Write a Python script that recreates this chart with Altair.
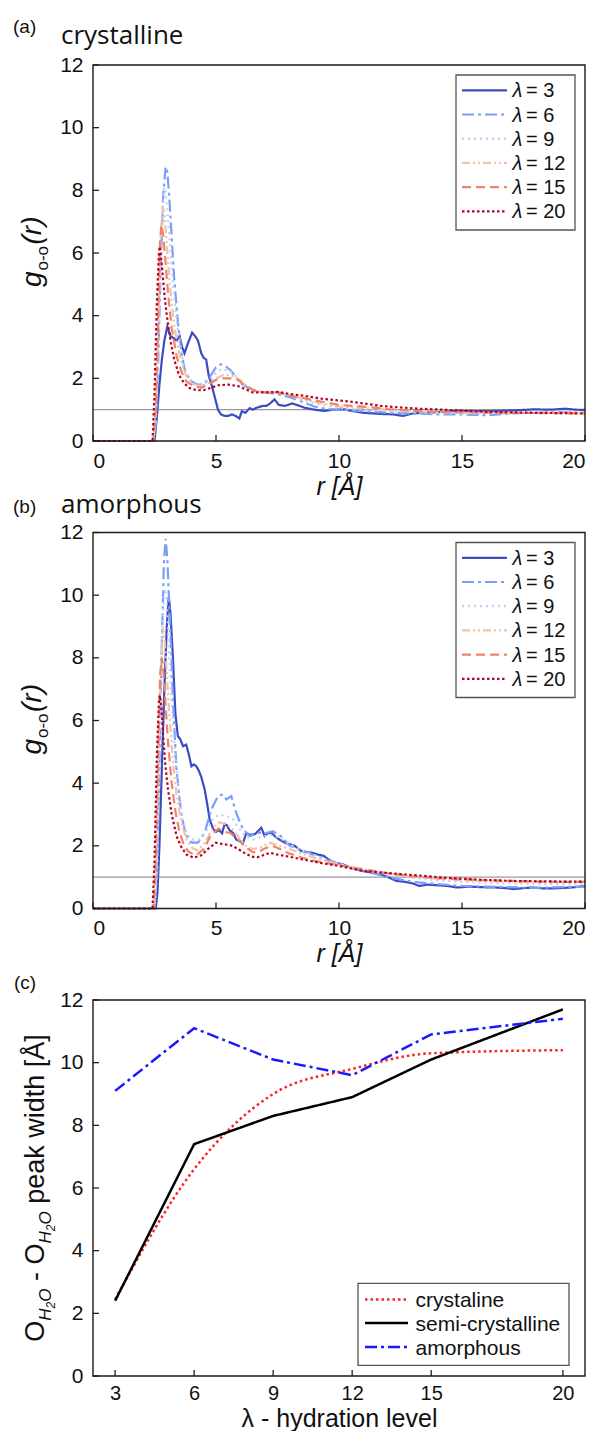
import altair as alt
import pandas as pd

# ---------------- data ----------------
LAMBDAS = ["λ = 3", "λ = 6", "λ = 9", "λ = 12", "λ = 15", "λ = 20"]
LAM_NUM = ["3", "6", "9", "12", "15", "20"]
LAM_COLORS = ["#3b4cc0", "#7b9ff9", "#b9d0f7", "#f2c3ab", "#ee8468", "#b40426"]
LAM_DASHES = [[1, 0], [12, 4, 3, 4], [2, 4], [8, 3, 2, 3, 2, 3], [9, 5], [2.5, 2.5]]

# (a) crystalline : (r, g) pairs
cryst_l3 = [(0, 0), (2.5, 0), (2.6, 0.8), (2.7, 1.8), (2.8, 2.6), (2.9, 3.2), (3.02, 3.65), (3.15, 3.35),
            (3.25, 3.3), (3.4, 3.2), (3.52, 3.35), (3.62, 3.0), (3.72, 2.8), (3.85, 3.1), (4.03, 3.46),
            (4.15, 3.35), (4.27, 3.2), (4.4, 2.8), (4.5, 2.65), (4.6, 2.6), (4.7, 2.1), (4.8, 1.85),
            (4.95, 1.4), (5.08, 1.0), (5.2, 0.85), (5.35, 0.8), (5.5, 0.8), (5.65, 0.85), (5.8, 0.8),
            (5.95, 0.72), (6.05, 0.95), (6.2, 0.9), (6.37, 1.05), (6.5, 1.0), (6.64, 1.06), (6.9, 1.12),
            (7.05, 1.12), (7.2, 1.2), (7.38, 1.33), (7.55, 1.15), (7.8, 1.12), (8.1, 1.2), (8.4, 1.12),
            (8.6, 1.06), (9.0, 1.0), (9.4, 0.96), (9.8, 1.0), (10.2, 1.01), (10.6, 0.95), (11.0, 0.9),
            (11.4, 0.88), (11.8, 0.86), (12.2, 0.85), (12.6, 0.8), (13.0, 0.88), (13.4, 0.9), (14.0, 0.92),
            (14.8, 0.96), (15.5, 0.95), (16.4, 0.96), (17.2, 0.98), (17.9, 1.01), (18.6, 1.0), (19.2, 1.03),
            (19.6, 1.0), (20, 0.99)]
cryst_l6 = [(0, 0), (2.45, 0), (2.55, 0.5), (2.65, 2.5), (2.75, 5.5), (2.85, 7.8), (2.95, 8.75), (3.02, 8.6),
            (3.1, 7.8), (3.2, 6.5), (3.3, 5.2), (3.45, 3.8), (3.6, 2.8), (3.75, 2.2), (4.0, 1.9), (4.25, 1.8),
            (4.5, 1.8), (4.75, 2.05), (5.0, 2.35), (5.2, 2.45), (5.4, 2.38), (5.6, 2.25), (5.8, 2.05),
            (6.0, 1.85), (6.3, 1.7), (6.6, 1.6), (7.0, 1.55), (7.5, 1.5), (8.0, 1.4), (8.5, 1.25), (9.0, 1.1),
            (9.5, 1.02), (10, 1.0), (11, 0.95), (12, 0.9), (13, 0.88), (14, 0.85), (15, 0.85), (16, 0.82),
            (17, 0.88), (18, 0.9), (19, 0.92), (20, 0.9)]
cryst_l9 = [(0, 0), (2.45, 0), (2.55, 0.6), (2.65, 3.0), (2.75, 6.2), (2.85, 8.0), (2.92, 8.1), (3.0, 7.6),
            (3.1, 6.6), (3.2, 5.5), (3.35, 4.2), (3.5, 3.2), (3.7, 2.4), (3.9, 2.0), (4.2, 1.8), (4.5, 1.8),
            (4.8, 2.0), (5.1, 2.25), (5.3, 2.3), (5.6, 2.2), (5.9, 2.0), (6.2, 1.75), (6.6, 1.6), (7.0, 1.55),
            (7.5, 1.55), (8, 1.45), (9, 1.2), (10, 1.05), (11, 1.0), (12, 0.95), (13, 0.92), (14, 0.9),
            (15, 0.88), (16, 0.88), (18, 0.9), (20, 0.9)]
cryst_l12 = [(0, 0), (2.45, 0), (2.55, 0.8), (2.65, 3.5), (2.75, 6.5), (2.82, 7.5), (2.9, 7.3), (3.0, 6.3),
             (3.1, 5.2), (3.25, 4.0), (3.4, 3.2), (3.6, 2.5), (3.8, 2.05), (4.1, 1.8), (4.4, 1.75), (4.7, 1.85),
             (5.0, 2.0), (5.3, 2.1), (5.6, 2.1), (5.9, 2.0), (6.2, 1.8), (6.6, 1.6), (7.0, 1.55), (7.5, 1.55),
             (8, 1.45), (9, 1.25), (10, 1.1), (11, 1.05), (12, 1.0), (13, 0.95), (14, 0.92), (15, 0.9),
             (17, 0.9), (20, 0.9)]
cryst_l15 = [(0, 0), (2.45, 0), (2.55, 1.0), (2.65, 4.0), (2.72, 6.3), (2.78, 6.9), (2.85, 6.6), (2.95, 5.7),
             (3.05, 4.7), (3.2, 3.6), (3.4, 2.7), (3.6, 2.2), (3.8, 1.9), (4.1, 1.75), (4.4, 1.7), (4.7, 1.8),
             (5.0, 1.95), (5.3, 2.0), (5.6, 2.0), (5.9, 1.95), (6.2, 1.75), (6.6, 1.6), (7.0, 1.55), (7.5, 1.55),
             (8, 1.45), (9, 1.3), (10, 1.15), (11, 1.1), (12, 1.02), (13, 0.97), (14, 0.93), (15, 0.92),
             (17, 0.9), (20, 0.88)]
cryst_l20 = [(0, 0), (2.42, 0), (2.5, 1.5), (2.6, 4.5), (2.68, 6.0), (2.72, 6.2), (2.8, 5.6), (2.9, 4.7),
             (3.0, 4.0), (3.15, 3.2), (3.3, 2.6), (3.5, 2.1), (3.7, 1.85), (3.9, 1.7), (4.2, 1.62), (4.5, 1.62),
             (4.8, 1.7), (5.1, 1.78), (5.5, 1.8), (5.9, 1.75), (6.2, 1.65), (6.5, 1.55), (7.0, 1.55), (7.5, 1.57),
             (8.0, 1.5), (8.6, 1.44), (9.3, 1.35), (10.2, 1.28), (11, 1.2), (11.7, 1.12), (12.5, 1.07),
             (13.3, 1.03), (14.8, 0.98), (16, 0.93), (18, 0.9), (20, 0.88)]

# (b) amorphous
amor_l3 = [(0, 0), (2.55, 0), (2.62, 0.5), (2.7, 2.0), (2.8, 4.5), (2.9, 7.0), (3.0, 9.0), (3.08, 9.95),
           (3.15, 9.4), (3.25, 8.0), (3.35, 6.2), (3.45, 5.5), (3.55, 5.4), (3.66, 5.18), (3.79, 5.23),
           (3.9, 4.9), (4.0, 4.54), (4.1, 4.6), (4.2, 4.54), (4.3, 4.4), (4.4, 4.2), (4.54, 3.8), (4.65, 3.3),
           (4.74, 2.85), (4.88, 2.55), (5.0, 2.45), (5.14, 2.5), (5.25, 2.4), (5.35, 2.7), (5.45, 2.65),
           (5.55, 2.5), (5.7, 2.4), (5.82, 2.2), (5.95, 2.15), (6.1, 2.1), (6.23, 2.4), (6.4, 2.35),
           (6.6, 2.38), (6.84, 2.58), (6.98, 2.31), (7.1, 2.4), (7.25, 2.42), (7.4, 2.3), (7.58, 2.2),
           (7.8, 2.1), (8.0, 2.05), (8.2, 2.0), (8.45, 1.84), (8.7, 1.8), (8.9, 1.78), (9.15, 1.72),
           (9.38, 1.68), (9.6, 1.55), (9.85, 1.46), (10.15, 1.41), (10.5, 1.3), (10.93, 1.2), (11.3, 1.15),
           (11.7, 1.09), (12.0, 1.0), (12.33, 0.88), (12.7, 0.85), (13.0, 0.8), (13.26, 0.72), (13.6, 0.76),
           (14.03, 0.74), (14.4, 0.72), (14.8, 0.67), (15.3, 0.7), (15.8, 0.68), (16.36, 0.67), (16.8, 0.65),
           (17.1, 0.62), (17.5, 0.65), (17.9, 0.67), (18.3, 0.64), (18.7, 0.64), (19.2, 0.66), (19.6, 0.68),
           (20, 0.72)]
amor_l6 = [(0, 0), (2.5, 0), (2.6, 1.0), (2.7, 4.5), (2.8, 8.5), (2.88, 11.0), (2.95, 11.8), (3.02, 11.2),
           (3.11, 9.5), (3.2, 7.8), (3.25, 6.67), (3.39, 4.5), (3.52, 3.48), (3.62, 2.9), (3.72, 2.53),
           (3.85, 2.25), (4.0, 2.1), (4.27, 2.1), (4.54, 2.42), (4.81, 3.16), (5.08, 3.59), (5.28, 3.64),
           (5.42, 3.48), (5.62, 3.59), (5.82, 3.06), (6.0, 2.7), (6.1, 2.53), (6.37, 2.31), (6.77, 2.42),
           (7.0, 2.4), (7.31, 2.47), (7.65, 2.3), (8.0, 2.0), (8.5, 1.85), (9.0, 1.7), (9.5, 1.55),
           (10, 1.42), (10.5, 1.3), (11, 1.2), (11.5, 1.1), (12, 1.0), (12.5, 0.92), (13, 0.85), (14, 0.78),
           (15, 0.72), (16, 0.7), (17, 0.68), (18, 0.66), (19, 0.68), (20, 0.7)]
amor_l9 = [(0, 0), (2.5, 0), (2.6, 1.2), (2.7, 5.0), (2.8, 8.5), (2.88, 10.0), (2.95, 10.2), (3.02, 9.5),
           (3.1, 8.0), (3.2, 6.5), (3.35, 4.8), (3.5, 3.6), (3.65, 2.8), (3.8, 2.4), (4.0, 2.2), (4.3, 2.2),
           (4.6, 2.45), (4.9, 2.9), (5.15, 3.0), (5.4, 2.95), (5.65, 2.9), (5.9, 2.6), (6.2, 2.3), (6.5, 2.2),
           (6.9, 2.3), (7.3, 2.35), (7.7, 2.2), (8, 2.05), (8.5, 1.85), (9, 1.7), (9.5, 1.55), (10, 1.42),
           (10.5, 1.32), (11, 1.22), (12, 1.1), (13, 0.98), (14, 0.9), (15, 0.85), (16, 0.82), (17, 0.8),
           (18, 0.78), (19, 0.78), (20, 0.78)]
amor_l12 = [(0, 0), (2.48, 0), (2.58, 1.5), (2.68, 5.5), (2.78, 8.2), (2.85, 9.0), (2.92, 8.5), (3.0, 7.5),
            (3.1, 6.2), (3.25, 4.7), (3.4, 3.6), (3.6, 2.7), (3.8, 2.2), (4.0, 1.95), (4.25, 1.85),
            (4.55, 2.1), (4.85, 2.55), (5.1, 2.75), (5.35, 2.7), (5.6, 2.6), (5.9, 2.3), (6.2, 2.0),
            (6.5, 1.9), (6.8, 1.95), (7.2, 2.1), (7.6, 2.0), (8, 1.9), (8.5, 1.75), (9, 1.62), (9.5, 1.5),
            (10, 1.42), (10.5, 1.32), (11, 1.25), (12, 1.12), (13, 1.02), (14, 0.95), (15, 0.9), (16, 0.88),
            (17, 0.86), (18, 0.85), (19, 0.85), (20, 0.85)]
amor_l15 = [(0, 0), (2.45, 0), (2.55, 1.5), (2.65, 5.0), (2.73, 7.5), (2.8, 8.0), (2.87, 7.5), (2.95, 6.5),
            (3.05, 5.3), (3.2, 4.0), (3.35, 3.1), (3.5, 2.5), (3.7, 2.0), (3.9, 1.8), (4.2, 1.7), (4.5, 1.9),
            (4.8, 2.35), (5.1, 2.55), (5.35, 2.45), (5.6, 2.4), (5.9, 2.2), (6.2, 1.95), (6.5, 1.8),
            (6.7, 1.8), (7.0, 1.92), (7.3, 2.0), (7.6, 1.9), (8.0, 1.75), (8.5, 1.62), (9, 1.52), (9.5, 1.45),
            (10, 1.38), (10.5, 1.3), (11, 1.25), (12, 1.12), (13, 1.03), (14, 0.97), (15, 0.93), (16, 0.9),
            (17, 0.88), (18, 0.86), (19, 0.85), (20, 0.85)]
amor_l20 = [(0, 0), (2.42, 0), (2.5, 1.5), (2.6, 5.0), (2.68, 6.6), (2.72, 6.8), (2.78, 6.4), (2.86, 5.4),
            (2.95, 4.5), (3.05, 3.8), (3.2, 3.0), (3.4, 2.3), (3.6, 1.95), (3.8, 1.72), (4.1, 1.62),
            (4.4, 1.7), (4.7, 1.92), (5.0, 2.1), (5.3, 2.05), (5.6, 2.02), (5.9, 1.9), (6.2, 1.75),
            (6.5, 1.65), (6.7, 1.64), (7.0, 1.72), (7.2, 1.78), (7.5, 1.72), (8.0, 1.65), (8.5, 1.57),
            (9, 1.49), (9.5, 1.42), (10, 1.36), (10.5, 1.28), (11, 1.2), (11.7, 1.15), (12.5, 1.1),
            (13.3, 1.05), (14, 1.0), (15, 0.95), (15.5, 0.93), (16, 0.91), (17, 0.88), (18, 0.87), (19, 0.86),
            (20, 0.86)]

R_TICKS = [0, 5, 10, 15, 20]
G_TICKS = [0, 2, 4, 6, 8, 10, 12]

# (c) peak width vs hydration level
HYD = [3, 6, 9, 12, 15, 20]
PW_CRYST = [2.45, 6.6, 9.0, 9.8, 10.3, 10.4]
PW_SEMI = [2.4, 7.4, 8.3, 8.9, 10.1, 11.7]
PW_AMOR = [9.1, 11.1, 10.1, 9.6, 10.9, 11.4]
C_NAMES = ["crystaline", "semi-crystalline", "amorphous"]
C_COLORS = ["#ff2020", "#000000", "#1a1aff"]
C_DASHES = [[2.5, 3], [1, 0], [12, 4, 3, 4]]
PW_TICKS = [0, 2, 4, 6, 8, 10, 12]

# ---------------- helpers ----------------
W, H = 492, 376
ONE = pd.DataFrame({"k": [0]})
SANS = "Liberation Sans"
INK = "#111"


def gdf(series):
    rows = []
    for lab, pts in zip(LAMBDAS, series):
        for r, g in pts:
            rows.append({"r": r, "g": g, "lam": lab})
    return pd.DataFrame(rows)


def txt(text, x, y, size, font=SANS, style="normal", angle=0):
    return alt.Chart(ONE).mark_text(
        text=text, font=font, fontSize=size, fontStyle=style, angle=angle,
        align="left", baseline="alphabetic", color=INK
    ).encode(x=alt.value(x), y=alt.value(y))


def legend_line(x1, x2, y, color, dash, width):
    return alt.Chart(ONE).mark_rule(color=color, strokeDash=dash, strokeWidth=width).encode(
        x=alt.value(x1), x2=alt.value(x2), y=alt.value(y))


def box(x1, x2, y1, y2):
    return alt.Chart(ONE).mark_rect(fill="white", stroke="#555", strokeWidth=1.3).encode(
        x=alt.value(x1), x2=alt.value(x2), y=alt.value(y1), y2=alt.value(y2))


def frame():
    return alt.Chart(ONE).mark_rect(fillOpacity=0, stroke="#1a1a1a", strokeWidth=1.4).encode(
        x=alt.value(0), x2=alt.value(W), y=alt.value(0), y2=alt.value(H))


def axis_x(values, title, italic, tsize, tpad, lsize, lpad):
    return alt.Axis(values=values, title=title, titleFontStyle="italic" if italic else "normal",
                    titleFontSize=tsize, titleFont=SANS, titlePadding=tpad, titleColor=INK,
                    titleFontWeight="normal", labelFontSize=lsize, labelPadding=lpad, labelFont=SANS,
                    labelColor=INK, ticks=False, tickSize=0, domain=False, grid=False)


def axis_y(values):
    return alt.Axis(values=values, title=None, labelFontSize=21, labelPadding=10, labelFont=SANS,
                    labelColor=INK, ticks=False, tickSize=0, domain=False, grid=False)


def inward_ticks(xfield, xscale, xaxis, xvals, yfield, yscale, yaxis, yvals):
    xt = alt.Chart(pd.DataFrame({xfield: xvals})).mark_rule(color="#222", strokeWidth=1.3).encode(
        x=alt.X(f"{xfield}:Q", scale=xscale, axis=xaxis), y=alt.value(H), y2=alt.value(H - 6))
    yt = alt.Chart(pd.DataFrame({yfield: yvals})).mark_rule(color="#222", strokeWidth=1.3).encode(
        y=alt.Y(f"{yfield}:Q", scale=yscale, axis=yaxis), x=alt.value(0), x2=alt.value(6))
    return [xt, yt]


def g_title():
    y0 = H / 2 + 34
    return [
        txt("g", -52, y0, 28, style="italic", angle=270),
        txt("o-o", -45, y0 - 16.5, 17, angle=270),
        txt("(r)", -52, y0 - 42.5, 28, style="italic", angle=270),
    ]


def lam_legend():
    layers = [box(363, 482, 10, 165)]
    for i, (num, col, dash) in enumerate(zip(LAM_NUM, LAM_COLORS, LAM_DASHES)):
        yc = 25.3 + 24.2 * i
        layers.append(legend_line(369, 414, yc, col, dash, 2.2))
        layers.append(txt("λ", 419.5, yc + 7, 20, style="italic"))
        layers.append(txt("= " + num, 433, yc + 7, 20))
    return layers


def rdf_panel(series, tag, name, tag_y, name_y):
    xs = alt.Scale(domain=[0, 20], nice=False)
    ys = alt.Scale(domain=[0, 12], nice=False)
    ax = axis_x(R_TICKS, "r [Å]", True, 25, 3, 21, 9)
    ay = axis_y(G_TICKS)
    lines = alt.Chart(gdf(series)).mark_line(strokeWidth=2.2).encode(
        x=alt.X("r:Q", scale=xs, axis=ax),
        y=alt.Y("g:Q", scale=ys, axis=ay),
        color=alt.Color("lam:N", scale=alt.Scale(domain=LAMBDAS, range=LAM_COLORS), legend=None),
        strokeDash=alt.StrokeDash("lam:N", scale=alt.Scale(domain=LAMBDAS, range=LAM_DASHES), legend=None),
    )
    ref = alt.Chart(pd.DataFrame({"g": [1]})).mark_rule(color="#9a9a9a", strokeWidth=1.3).encode(
        y=alt.Y("g:Q", scale=ys, axis=ay))
    layers = [ref, lines] + inward_ticks("r", xs, ax, R_TICKS, "g", ys, ay, G_TICKS) + [frame()] + g_title()
    layers += lam_legend()
    layers += [txt(tag, -80, tag_y, 19), txt(name, -32, name_y, 26, font="Open Sans")]
    return alt.layer(*layers).properties(width=W, height=H)


panel_a = rdf_panel([cryst_l3, cryst_l6, cryst_l9, cryst_l12, cryst_l15, cryst_l20],
                    "(a)", "crystalline", -32, -21)
panel_b = rdf_panel([amor_l3, amor_l6, amor_l9, amor_l12, amor_l15, amor_l20],
                    "(b)", "amorphous", -19.5, -19.5)

# ---------------- panel (c) ----------------
rows = []
for name, vals in zip(C_NAMES, [PW_CRYST, PW_SEMI, PW_AMOR]):
    for h, v in zip(HYD, vals):
        rows.append({"hyd": h, "pw": v, "kind": name})
dfc = pd.DataFrame(rows)

xs_c = alt.Scale(domain=[2.16, 20.84], nice=False)
ys_c = alt.Scale(domain=[0, 12], nice=False)
ax_c = axis_x(HYD, "λ - hydration level", False, 25, 3, 20, 7)
ay_c = axis_y(PW_TICKS)
enc_c = dict(
    x=alt.X("hyd:Q", scale=xs_c, axis=ax_c),
    y=alt.Y("pw:Q", scale=ys_c, axis=ay_c),
    color=alt.Color("kind:N", scale=alt.Scale(domain=C_NAMES, range=C_COLORS), legend=None),
    strokeDash=alt.StrokeDash("kind:N", scale=alt.Scale(domain=C_NAMES, range=C_DASHES), legend=None),
)
lines_smooth = alt.Chart(dfc[dfc.kind == "crystaline"]).mark_line(
    strokeWidth=2.5, interpolate="monotone").encode(**enc_c)
lines_straight = alt.Chart(dfc[dfc.kind != "crystaline"]).mark_line(strokeWidth=2.5).encode(**enc_c)

y0c = H / 2 + 153.75
ctitle = [
    txt("O", -49.4, y0c, 27, angle=270),
    txt("H", -42, y0c - 21.0, 17, style="italic", angle=270),
    txt("2", -38, y0c - 33.3, 12, style="italic", angle=270),
    txt("O", -42, y0c - 40.0, 17, style="italic", angle=270),
    txt("- O", -49.4, y0c - 60.7, 27, angle=270),
    txt("H", -42, y0c - 98.2, 17, style="italic", angle=270),
    txt("2", -38, y0c - 110.5, 12, style="italic", angle=270),
    txt("O", -42, y0c - 117.2, 17, style="italic", angle=270),
    txt("peak width [Å]", -49.4, y0c - 137.9, 27, angle=270),
]
c_legend = [box(265, 476, 283.3, 365.3)]
for i, (name, col, dash) in enumerate(zip(C_NAMES, C_COLORS, C_DASHES)):
    yc = [299.5, 323.0, 347.0][i]
    c_legend.append(legend_line(272, 315, yc, col, dash, 2.5))
    c_legend.append(txt(name, 322.6, yc + 7.5, 21))

panel_c = alt.layer(
    lines_smooth, lines_straight,
    *inward_ticks("hyd", xs_c, ax_c, HYD, "pw", ys_c, ay_c, PW_TICKS),
    frame(),
    *ctitle, *c_legend,
    txt("(c)", -79, -10.7, 19),
).properties(width=W, height=H)

chart = alt.vconcat(panel_a, panel_b, panel_c, spacing=91.5, bounds="flush").resolve_scale(
    color="independent", strokeDash="independent").properties(
    padding={"left": 5, "top": 10, "right": 0, "bottom": 0}
).configure_view(strokeWidth=0)

chart.save("out.html", embed_options={"renderer": "svg", "actions": False})
